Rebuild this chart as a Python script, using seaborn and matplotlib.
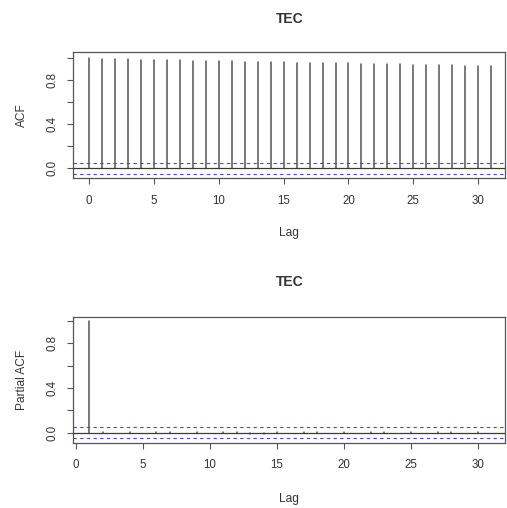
import matplotlib
matplotlib.use("Agg")
import matplotlib.pyplot as plt
import numpy as np
import pandas as pd
import seaborn as sns
from matplotlib.ticker import FixedLocator, FixedFormatter

# Autocorrelation of the TEC series, lags 0..31
acf_lags = list(range(32))
acf_vals = [1.000, 0.997, 0.994, 0.991, 0.988, 0.986, 0.984, 0.981,
            0.979, 0.977, 0.975, 0.973, 0.971, 0.968, 0.966, 0.964,
            0.962, 0.960, 0.958, 0.956, 0.954, 0.952, 0.950, 0.948,
            0.946, 0.944, 0.942, 0.940, 0.938, 0.935, 0.932, 0.928]

# Partial autocorrelation, lags 1..31
pacf_lags = list(range(1, 32))
pacf_vals = [0.998, 0.010, -0.006, 0.008, -0.005, 0.007, 0.006, -0.004,
             0.009, -0.006, 0.005, 0.006, -0.007, -0.012, 0.008, -0.005,
             0.006, 0.007, -0.006, 0.005, -0.004, 0.006, 0.005, -0.006,
             0.007, -0.005, 0.006, 0.004, -0.006, 0.005, -0.004]

# 95% white-noise bounds
conf_limit = 0.048

x_ticks = [0, 5, 10, 15, 20, 25, 30]
y_ticks = [0.0, 0.2, 0.4, 0.6, 0.8, 1.0]
y_tick_labels = ["0.0", "", "0.4", "", "0.8", ""]

sns.set_theme(style="ticks")
plt.rcParams["font.family"] = ["Liberation Sans", "DejaVu Sans"]

ink = "#333333"
stem_color = "#555555"
frame_color = "#555555"
band_color = "#4646dc"


def stems_frame(lags, vals, name):
    rows = []
    for lag, v in zip(lags, vals):
        rows.append({"lag": lag, name: 0.0})
        rows.append({"lag": lag, name: v})
    return pd.DataFrame(rows)


def draw_panel(ax, lags, vals, name, ylabel, xlim, ylim, title_y, xlab_y):
    df = stems_frame(lags, vals, name)
    sns.lineplot(data=df, x="lag", y=name, units="lag", estimator=None,
                 color=stem_color, linewidth=1.1, legend=False, ax=ax,
                 sort=False)
    ax.axhline(0, color="#3a3a3a", linewidth=0.9, zorder=3)
    for s in (conf_limit, -conf_limit):
        ax.axhline(s, color=band_color, linewidth=0.8,
                   linestyle=(0, (3, 3)), zorder=4)
    ax.set_xlim(*xlim)
    ax.set_ylim(*ylim)
    ax.xaxis.set_major_locator(FixedLocator(x_ticks))
    ax.yaxis.set_major_locator(FixedLocator(y_ticks))
    ax.yaxis.set_major_formatter(FixedFormatter(y_tick_labels))
    ax.tick_params(axis="both", direction="out", length=4.5, width=0.8,
                   color=frame_color, labelsize=8.3, labelcolor=ink)
    ax.tick_params(axis="x", pad=7.5)
    ax.tick_params(axis="y", pad=6, labelrotation=90)
    for lbl in ax.get_yticklabels():
        lbl.set_verticalalignment("center")
    for sp in ax.spines.values():
        sp.set_visible(True)
        sp.set_color(frame_color)
        sp.set_linewidth(0.9)
    ax.set_title("TEC", fontsize=10, fontweight="bold", color=ink,
                 y=title_y, va="center", pad=0)
    ax.set_xlabel("Lag", fontsize=8.6, color=ink)
    ax.set_ylabel(ylabel, fontsize=8.6, color=ink)
    ax.xaxis.set_label_coords(0.5, xlab_y)
    ax.xaxis.label.set_verticalalignment("center")
    ax.yaxis.set_label_coords(-0.117, 0.5)
    ax.yaxis.label.set_verticalalignment("center")


fig = plt.figure(figsize=(5.07, 5.08), dpi=100)
ax1 = fig.add_axes([0.1438, 0.649, 0.8532, 0.248])
ax2 = fig.add_axes([0.1438, 0.1285, 0.8532, 0.2469])

draw_panel(ax1, acf_lags, acf_vals, "acf", "ACF",
           (-1.24, 32.1), (-0.091, 1.055), 1.264, -0.435)
draw_panel(ax2, pacf_lags, pacf_vals, "pacf", "Partial ACF",
           (-0.23, 32.04), (-0.0895, 1.033), 1.279, -0.447)

fig.savefig("out.png", dpi=100, facecolor="white")
